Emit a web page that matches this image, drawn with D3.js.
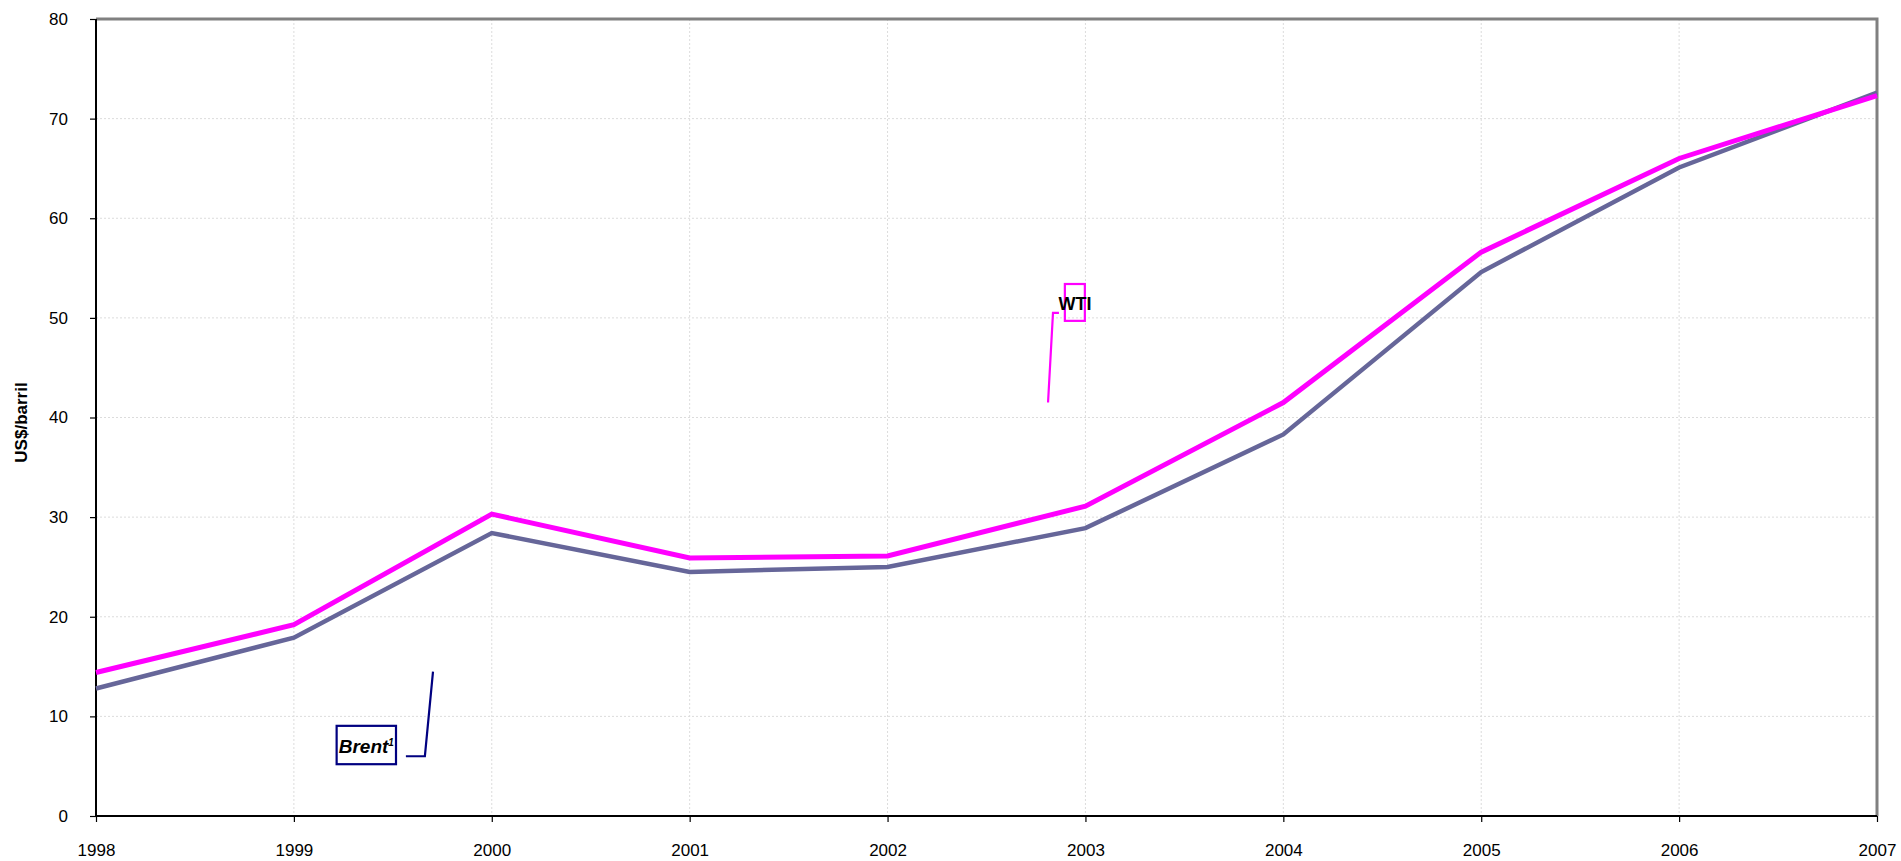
<!DOCTYPE html>
<html>
<head>
<meta charset="utf-8">
<script src="https://cdn.jsdelivr.net/npm/d3@7"></script>
<style>
  html, body { margin: 0; padding: 0; background: #fff; }
  svg { display: block; font-family: "Liberation Sans", Arial, sans-serif; }
</style>
</head>
<body>
<svg id="chart" width="1901" height="861"></svg>
<script>
// ---- data ----
const years = [1998, 1999, 2000, 2001, 2002, 2003, 2004, 2005, 2006, 2007];
const wti   = [14.4, 19.2, 30.3, 25.9, 26.1, 31.1, 41.5, 56.6, 66.0, 72.3];
const brent = [12.8, 17.9, 28.4, 24.5, 25.0, 28.9, 38.3, 54.6, 65.1, 72.6];
const yTicks = [0, 10, 20, 30, 40, 50, 60, 70, 80];
const xTicks = years;
const yTitle = "US$/barril";
// annotation anchors in data units [year, value]
const brentLeader = [[1999.566, 6.0], [1999.662, 6.0], [1999.703, 14.5]];
const brentBox = { x0: 1999.216, x1: 1999.516, y0: 9.05, y1: 5.2, tx: 1999.366, ty: 7.0 };
const wtiLeader = [[2002.811, 41.5], [2002.836, 50.5], [2002.866, 50.5]];
const wtiBox = { x0: 2002.896, x1: 2002.997, y0: 53.4, y1: 49.7, tx: 2002.947, ty: 51.5 };

// ---- layout ----
const L = 96, R = 1877, T = 19, B = 816;
const svg = d3.select("#chart");
const x = d3.scaleLinear().domain([1998, 2007]).range([L, R]);
const y = d3.scaleLinear().domain([0, 80]).range([B, T]);

// gridlines
svg.append("g").selectAll("line").data(yTicks.filter(d => d > 0 && d < 80)).join("line")
  .attr("x1", L).attr("x2", R).attr("y1", d => y(d)).attr("y2", d => y(d))
  .attr("stroke", "#dcdcdc").attr("stroke-width", 1).attr("stroke-dasharray", "2,2");
svg.append("g").selectAll("line").data(xTicks.filter(d => d > 1998 && d < 2007)).join("line")
  .attr("y1", T).attr("y2", B).attr("x1", d => x(d)).attr("x2", d => x(d))
  .attr("stroke", "#dcdcdc").attr("stroke-width", 1).attr("stroke-dasharray", "2,2");

// top & right border (gray)
svg.append("path")
  .attr("d", `M${L},${T}H${R}V${B}`)
  .attr("fill", "none").attr("stroke", "#808080").attr("stroke-width", 3);

// axes
const yAxis = d3.axisLeft(y).tickValues(yTicks).tickSize(6).tickPadding(22).tickFormat(d3.format("d"));
const gy = svg.append("g").attr("transform", `translate(${L},0)`).call(yAxis);
const xAxis = d3.axisBottom(x).tickValues(xTicks).tickSize(6).tickPadding(22).tickFormat(d3.format("d"));
const gx = svg.append("g").attr("transform", `translate(0,${B})`).call(xAxis);
[gy, gx].forEach(g => {
  g.select(".domain").attr("stroke", "#000").attr("stroke-width", 2);
  g.selectAll(".tick line").attr("stroke", "#000").attr("stroke-width", 1.2);
  g.selectAll(".tick text").attr("fill", "#000").attr("font-size", 17)
    .attr("font-family", "'Liberation Sans', Arial, sans-serif");
});
gy.select(".domain").attr("d", `M0,${T}V${B}`);
gx.select(".domain").attr("d", `M${L},0H${R}`);

// y title
svg.append("text")
  .attr("transform", `translate(27,${(T + B) / 2 + 5}) rotate(-90)`)
  .attr("text-anchor", "middle")
  .attr("font-size", 17).attr("font-weight", "bold").text(yTitle);

// lines
const line = d3.line().x((d, i) => x(years[i])).y(d => y(d));
svg.append("path").datum(brent).attr("d", line)
  .attr("fill", "none").attr("stroke", "#666699").attr("stroke-width", 4.5);
svg.append("path").datum(wti).attr("d", line)
  .attr("fill", "none").attr("stroke", "#FF00FF").attr("stroke-width", 5);

// annotations
const lp = d3.line().x(d => x(d[0])).y(d => y(d[1]));
svg.append("path").datum(brentLeader).attr("d", lp)
  .attr("fill", "none").attr("stroke", "#000080").attr("stroke-width", 2.2);
svg.append("rect")
  .attr("x", x(brentBox.x0)).attr("y", y(brentBox.y0))
  .attr("width", x(brentBox.x1) - x(brentBox.x0)).attr("height", y(brentBox.y1) - y(brentBox.y0))
  .attr("fill", "none").attr("stroke", "#000080").attr("stroke-width", 2.2);
const bt = svg.append("text")
  .attr("x", x(brentBox.tx)).attr("y", y(brentBox.ty) + 7)
  .attr("text-anchor", "middle").attr("font-size", 19)
  .attr("font-weight", "bold").attr("font-style", "italic");
bt.append("tspan").text("Brent");
bt.append("tspan").attr("font-size", 10).attr("dy", -7).text("1");

svg.append("path").datum(wtiLeader).attr("d", lp)
  .attr("fill", "none").attr("stroke", "#FF00FF").attr("stroke-width", 2.2);
svg.append("rect")
  .attr("x", x(wtiBox.x0)).attr("y", y(wtiBox.y0))
  .attr("width", x(wtiBox.x1) - x(wtiBox.x0)).attr("height", y(wtiBox.y1) - y(wtiBox.y0))
  .attr("fill", "none").attr("stroke", "#FF00FF").attr("stroke-width", 2.2);
svg.append("text")
  .attr("x", x(wtiBox.tx)).attr("y", y(wtiBox.ty) + 7)
  .attr("text-anchor", "middle").attr("font-size", 18)
  .attr("font-weight", "bold").text("WTI");
</script>
</body>
</html>
